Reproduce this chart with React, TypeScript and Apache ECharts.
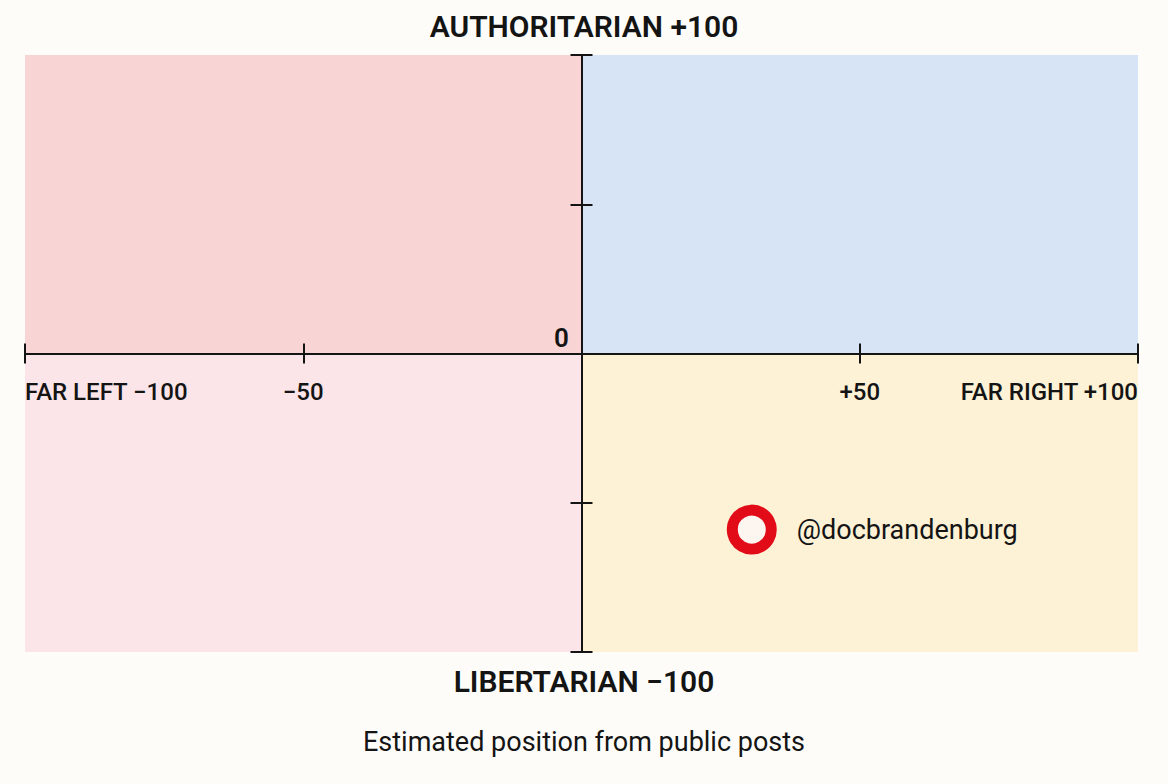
import { useEffect, useRef } from 'react'
import * as echarts from 'echarts'

const xTicks = [-100, -50, 0, 50, 100]
const xTickLabels = ['FAR LEFT −100', '−50', '', '+50', 'FAR RIGHT +100']
const yTopLabel = 'AUTHORITARIAN +100'
const yBottomLabel = 'LIBERTARIAN −100'
const originLabel = '0'
const caption = 'Estimated position from public posts'

const quadrantNames = ['Authoritarian left', 'Authoritarian right', 'Libertarian left', 'Libertarian right']
const quadrantX = [[-100, 0], [0, 100], [-100, 0], [0, 100]]
const quadrantY = [[0, 100], [0, 100], [-100, 0], [-100, 0]]
const quadrantColors = ['#f9d4d4', '#d6e4f5', '#fce5e9', '#fdf1d6']

const pointNames = ['@docbrandenburg']
const pointX = [30.6]
const pointY = [-59]

const font = 'Roboto, "Noto Sans", sans-serif'
const ink = '#141414'

export default function App() {
  const chartRef = useRef<HTMLDivElement | null>(null)

  useEffect(() => {
    if (!chartRef.current) {
      return
    }
    document.body.style.margin = '0'
    document.body.style.background = '#fdfcf8'

    const chart = echarts.init(chartRef.current, undefined, { renderer: 'svg' })

    const baseX = {
      type: 'value',
      min: -100,
      max: 100,
      interval: 50,
      z: 5,
      splitLine: { show: false },
      axisLine: { onZero: true, lineStyle: { color: ink, width: 2 } },
    }
    const baseY = {
      type: 'value',
      min: -100,
      max: 100,
      interval: 50,
      z: 5,
      splitLine: { show: false },
      axisLine: { onZero: true, lineStyle: { color: ink, width: 2 } },
      axisLabel: { show: false },
    }

    chart.setOption({
      animation: false,
      backgroundColor: '#fdfcf8',
      textStyle: { fontFamily: font },
      grid: { left: 25, right: 30, top: 55, bottom: 132 },
      xAxis: [
        {
          ...baseX,
          position: 'bottom',
          axisTick: { show: true, inside: false, length: 10, lineStyle: { color: ink, width: 2 } },
          axisLabel: {
            show: true,
            // labels sit at the grid edge, pull them up under the zero line
            margin: -272,
            color: ink,
            fontSize: 24,
            fontWeight: 500,
            fontFamily: font,
            alignMinLabel: 'left',
            alignMaxLabel: 'right',
            formatter: (v: number) => xTickLabels[xTicks.indexOf(v)] ?? '',
          },
        },
        {
          ...baseX,
          position: 'bottom',
          axisTick: { show: true, inside: true, length: 10, lineStyle: { color: ink, width: 2 } },
          axisLabel: { show: false },
        },
      ],
      yAxis: [
        {
          ...baseY,
          position: 'left',
          axisTick: { show: true, inside: false, length: 11, lineStyle: { color: ink, width: 2 } },
        },
        {
          ...baseY,
          position: 'left',
          axisTick: { show: true, inside: true, length: 11, lineStyle: { color: ink, width: 2 } },
        },
      ],
      graphic: [
        {
          type: 'text',
          left: 'center',
          top: 11,
          z: 100,
          style: { text: yTopLabel, fill: ink, font: `600 30px ${font}` },
        },
        {
          type: 'text',
          left: 'center',
          top: 666,
          z: 100,
          style: { text: yBottomLabel, fill: ink, font: `600 30px ${font}` },
        },
        {
          type: 'text',
          left: 'center',
          top: 728,
          z: 100,
          style: { text: caption, fill: ink, font: `400 27px ${font}` },
        },
        {
          type: 'text',
          x: 554,
          y: 325,
          z: 100,
          style: { text: originLabel, fill: ink, font: `600 26px ${font}` },
        },
      ],
      series: [
        {
          type: 'scatter',
          z: 1,
          data: [],
          markArea: {
            silent: true,
            data: quadrantNames.map((name, i) => [
              { name, coord: [quadrantX[i][0], quadrantY[i][0]], itemStyle: { color: quadrantColors[i] }, label: { show: false } },
              { coord: [quadrantX[i][1], quadrantY[i][1]] },
            ]),
          },
        },
        {
          type: 'scatter',
          z: 10,
          symbol: 'circle',
          symbolSize: 39,
          itemStyle: { color: '#fdf5f0', borderColor: '#e10c18', borderWidth: 11, opacity: 1 },
          label: {
            show: true,
            position: 'right',
            distance: 20,
            color: ink,
            fontSize: 27,
            fontFamily: font,
            formatter: (p: { name: string }) => p.name,
          },
          data: pointNames.map((name, i) => ({ name, value: [pointX[i], pointY[i]] })),
        },
      ],
    })

    const resize = () => chart.resize()
    window.addEventListener('resize', resize)
    return () => {
      window.removeEventListener('resize', resize)
      chart.dispose()
    }
  }, [])

  return <div ref={chartRef} style={{ width: 1168, height: 784 }} />
}
